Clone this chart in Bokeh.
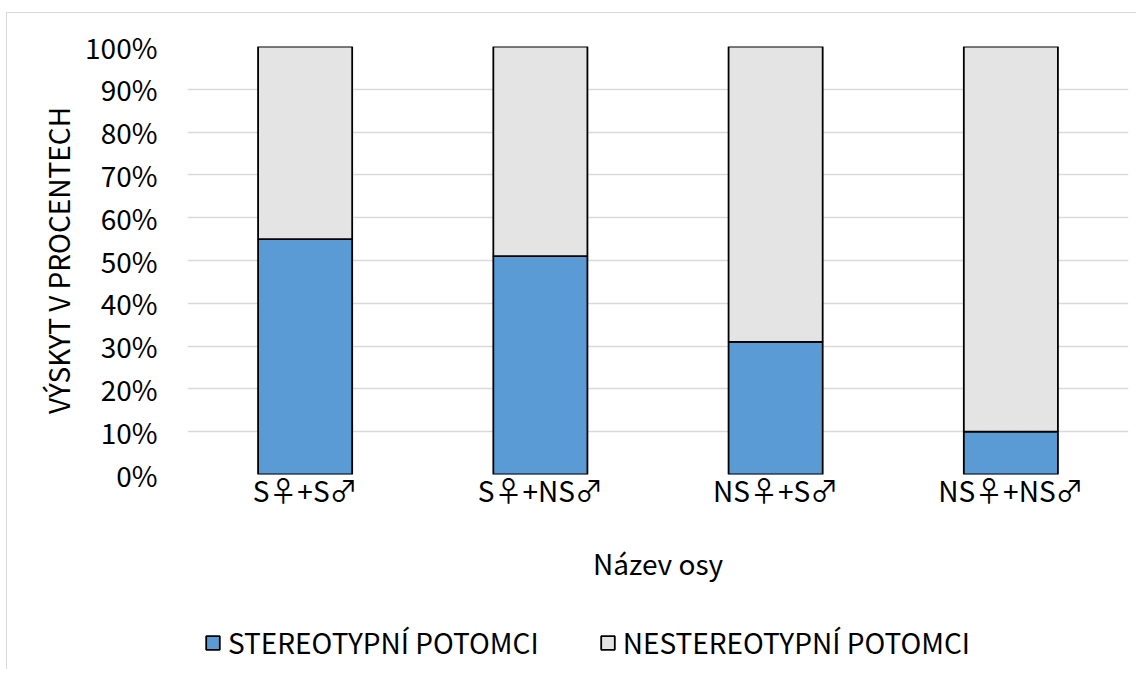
from bokeh.plotting import figure
from bokeh.layouts import column
from bokeh.models import FactorRange, Range1d, FixedTicker, NumeralTickFormatter, Legend, LegendItem
from bokeh.embed import file_html
from bokeh.resources import INLINE

categories = ["S♀+S♂", "S♀+NS♂", "NS♀+S♂", "NS♀+NS♂"]
stereo_pct = [55, 51, 31, 10]
nonstereo_pct = [45, 49, 69, 90]
series_names = ["STEREOTYPNÍ POTOMCI", "NESTEREOTYPNÍ POTOMCI"]
y_ticks_pct = [0, 10, 20, 30, 40, 50, 60, 70, 80, 90, 100]
colors = ["#5B9BD5", "#E4E4E4"]

FONT = "Noto Sans CJK JP"
FS = "28px"
data = dict(cat=categories,
            s=[v / 100 for v in stereo_pct],
            n=[v / 100 for v in nonstereo_pct])

p = figure(x_range=FactorRange(*categories, range_padding=0), y_range=Range1d(0, 1),
           width=1129, height=587, output_backend="svg", toolbar_location=None,
           min_border_left=180, min_border_right=8, min_border_top=33, min_border_bottom=126)

rs = p.vbar_stack(["s", "n"], x="cat", width=0.4, source=data,
                  color=colors, line_color="black", line_width=1.8)

p.yaxis.ticker = FixedTicker(ticks=[t / 100 for t in y_ticks_pct])
p.yaxis.formatter = NumeralTickFormatter(format="0%")
p.yaxis.axis_label = "VÝSKYT V PROCENTECH"
p.xaxis.axis_label = "Název osy"
for ax in (p.xaxis, p.yaxis):
    ax.axis_line_color = None
    ax.major_tick_line_color = None
    ax.minor_tick_line_color = None
    ax.major_label_text_font = FONT
    ax.major_label_text_font_size = FS
    ax.major_label_text_color = "#000000"
    ax.axis_label_text_font = FONT
    ax.axis_label_text_font_size = FS
    ax.axis_label_text_font_style = "normal"
    ax.axis_label_text_color = "#000000"
p.yaxis.major_label_standoff = 24
p.yaxis.axis_label_standoff = 4
p.xaxis.major_label_standoff = -11
p.xaxis.axis_label_standoff = 30

p.xgrid.grid_line_color = None
p.ygrid.grid_line_color = "#D9D9D9"
p.ygrid.grid_line_width = 1.5
p.outline_line_color = None

# legend strip
p2 = figure(width=1129, height=69, output_backend="svg", toolbar_location=None,
            x_range=Range1d(0, 1), y_range=Range1d(0, 1),
            x_axis_location=None, y_axis_location=None, min_border=0)
p2.xgrid.grid_line_color = None
p2.ygrid.grid_line_color = None
p2.outline_line_color = None
lr = [p2.vbar(x=[0.5], top=[0.5], bottom=[0.4], width=0.1, color=c, line_color="black",
              line_width=1.8, visible=False) for c in colors]
legend = Legend(items=[LegendItem(label=series_names[i], renderers=[lr[i]]) for i in range(2)],
                orientation="horizontal", location=(17, 7),
                label_text_font=FONT, label_text_font_size=FS, label_text_color="#000000",
                glyph_width=17, glyph_height=17, label_standoff=7, spacing=60,
                padding=0, margin=0, background_fill_alpha=0, border_line_alpha=0,
                inactive_fill_alpha=0)
p2.add_layout(legend, "center")

layout = column(p, p2, spacing=0)
layout.styles = {"border-top": "1px solid #D9D9D9", "border-left": "1px solid #D9D9D9",
                 "margin-top": "12px", "margin-left": "6px"}

open("out.html", "w").write(file_html(layout, INLINE))
